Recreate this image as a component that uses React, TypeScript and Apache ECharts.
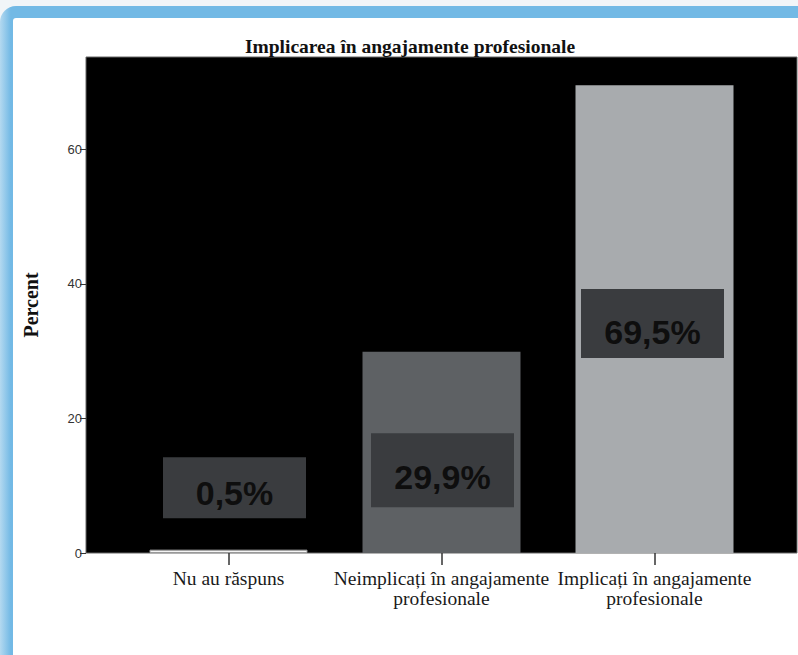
import React, { useEffect, useRef } from "react";
import * as echarts from "echarts";

const title = "Implicarea în angajamente profesionale";
const categories = [
  "Nu au răspuns",
  "Neimplicați în angajamente\nprofesionale",
  "Implicați în angajamente\nprofesionale",
];
const percents = [0.5, 29.9, 69.5];
const barColors = ["#f4f4f4", "#5e6164", "#a8abae"];
const yTicks = [0, 20, 40, 60];
const yMax = 73.7;
const yAxisName = "Percent";
// annotation boxes (value at box centre)
const boxCentres = [9.7, 12.3, 34.1];
const boxHeights = [61, 74, 69];
const boxOffsets = [6, 1, -2];
const textShift = [5, 7, 8];

const fmt = (v: number) => v.toFixed(1).replace(".", ",") + "%";

export default function App() {
  const ref = useRef<HTMLDivElement>(null);
  useEffect(() => {
    if (!ref.current) return;
    const chart = echarts.init(ref.current, null, { renderer: "svg" });
    const serif = "'Liberation Serif', 'Times New Roman', serif";
    const sans = "'Liberation Sans', Arial, sans-serif";
    chart.setOption({
      animation: false,
      backgroundColor: "#f1f5f8",
      title: {
        text: title,
        left: 405,
        top: 31,
        textAlign: "center",
        textStyle: { fontFamily: serif, fontWeight: "bold", fontSize: 19.5, color: "#111" },
      },
      graphic: [
        {
          type: "rect",
          z: -10,
          shape: { x: 0, y: 6, width: 900, height: 800, r: 16 },
          style: {
            fill: new echarts.graphic.LinearGradient(0, 0, 1, 0, [
              { offset: 0, color: "#b4d9f0" },
              { offset: 0.012, color: "#72b9e5" },
              { offset: 1, color: "#72b9e5" },
            ]),
          },
        },
        {
          type: "rect",
          z: -9,
          shape: { x: 13, y: 18, width: 900, height: 800, r: 3 },
          style: { fill: "#ffffff" },
        },
        {
          type: "rect",
          z: -5,
          shape: { x: 86, y: 57, width: 711, height: 496 },
          style: { fill: "#000000", stroke: "#666", lineWidth: 1 },
        },
      ],
      grid: { left: 122, right: 37, top: 57, bottom: 102 },
      xAxis: {
        type: "category",
        data: categories,
        axisLine: { show: false },
        axisTick: { show: true, alignWithLabel: true, length: 12, lineStyle: { color: "#333", width: 1.5 } },
        axisLabel: {
          margin: 15,
          fontFamily: serif,
          fontSize: 19.5,
          lineHeight: 20,
          color: "#1a1a1a",
          interval: 0,
        },
      },
      yAxis: {
        type: "value",
        min: 0,
        max: yMax,
        interval: 20,
        offset: 36,
        name: yAxisName,
        nameLocation: "middle",
        nameRotate: 90,
        nameGap: 45,
        nameTextStyle: { fontFamily: serif, fontWeight: "bold", fontSize: 20, color: "#111" },
        splitLine: { show: false },
        axisLine: { show: false },
        axisTick: { show: true, length: 6, customValues: yTicks, lineStyle: { color: "#333" } },
        axisLabel: { customValues: yTicks, margin: 4, fontFamily: sans, fontSize: 13, color: "#333" },
      },
      series: [
        {
          type: "bar",
          barWidth: 158,
          data: percents.map((v, i) => ({
            value: v,
            itemStyle: { color: barColors[i], borderColor: i === 0 ? "#999" : barColors[i], borderWidth: i === 0 ? 1 : 0 },
          })),
        },
        {
          type: "scatter",
          symbol: "rect",
          z: 5,
          data: percents.map((v, i) => ({
            value: [i, boxCentres[i]],
            symbolSize: [143, boxHeights[i]],
            symbolOffset: [boxOffsets[i], 0],
            itemStyle: { color: "#3a3c3f", opacity: 1 },
            label: {
              show: true,
              position: "inside",
              offset: [0, textShift[i]],
              formatter: fmt(v),
              fontFamily: sans,
              fontWeight: "bold",
              fontSize: 34,
              color: "#0e0e0e",
            },
          })),
          emphasis: { disabled: true },
        },
      ],
    });
    return () => chart.dispose();
  }, []);
  return (
    <div
      ref={ref}
      style={{ position: "fixed", left: 0, top: 0, width: 798, height: 655 }}
    />
  );
}
